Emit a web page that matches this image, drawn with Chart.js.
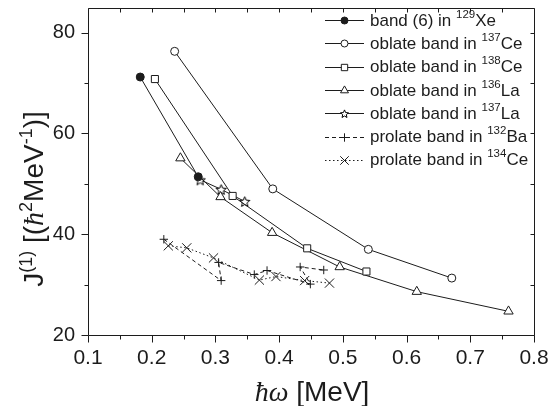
<!DOCTYPE html>
<html>
<head>
<meta charset="utf-8">
<script src="https://cdn.jsdelivr.net/npm/chart.js@4.4.1/dist/chart.umd.min.js"></script>
<style>
  html, body { margin: 0; padding: 0; background: #fff; }
  #wrap { width: 552px; height: 406px; position: relative; }
</style>
</head>
<body>
<div id="wrap"><canvas id="moi"></canvas></div>
<script>
// values: hbar*omega (MeV) vs J(1)
const xeX = [0.182, 0.273];
const xeY = [71.2, 51.4];
const ce137X = [0.236, 0.390, 0.540, 0.671];
const ce137Y = [76.3, 49.0, 37.0, 31.3];
const ce138X = [0.205, 0.327, 0.444, 0.537];
const ce138Y = [70.8, 47.6, 37.2, 32.6];
const la136X = [0.245, 0.308, 0.389, 0.495, 0.616, 0.760];
const la136Y = [55.1, 47.4, 40.3, 33.5, 28.6, 24.7];
const la137X = [0.276, 0.309, 0.346];
const la137Y = [50.8, 48.9, 46.5];
const ba132X = [0.219, 0.309, 0.305, 0.361, 0.381, 0.449, 0.433, 0.470];
const ba132Y = [39.0, 30.8, 34.4, 32.0, 32.8, 30.1, 33.5, 32.9];
const ce134X = [0.226, 0.255, 0.297, 0.369, 0.395, 0.440, 0.479];
const ce134Y = [37.7, 37.3, 35.3, 30.9, 31.6, 30.8, 30.3];

const xTicks = [0.1, 0.2, 0.3, 0.4, 0.5, 0.6, 0.7, 0.8];
const yTicks = [20, 40, 60, 80];

const INK = '#1c1c1c';
const SANS = '"Liberation Sans", Arial, sans-serif';
const SERIF = '"Liberation Serif", "Times New Roman", serif';

function pts(xs, ys) {
  return xs.map((x, i) => ({ x: x, y: ys[i] }));
}

// open five-point star as an image, Chart.js has no outline star
function starImage(r) {
  const s = 2 * Math.ceil(r + 1.5) + 1;
  const c = document.createElement('canvas');
  c.width = s; c.height = s;
  const g = c.getContext('2d');
  g.translate(s / 2, s / 2 + 0.6);
  g.beginPath();
  for (let i = 0; i < 10; i++) {
    const rr = i % 2 ? r * 0.45 : r;
    const a = -Math.PI / 2 + i * Math.PI / 5;
    g.lineTo(Math.cos(a) * rr, Math.sin(a) * rr);
  }
  g.closePath();
  g.fillStyle = '#fff';
  g.fill();
  g.strokeStyle = '#000';
  g.lineWidth = 1;
  g.stroke();
  return c;
}
const starBig = starImage(5.4);
const starSmall = starImage(4.2);

const series = [
  { label: [['band (6) in '], ['129', 1], ['Xe']], xs: xeX, ys: xeY, style: 'circle', r: 4, fill: INK, dash: [], lr: 3.5 },
  { label: [['oblate band in '], ['137', 1], ['Ce']], xs: ce137X, ys: ce137Y, style: 'circle', r: 4, fill: '#fff', dash: [], lr: 3.5 },
  { label: [['oblate band in '], ['138', 1], ['Ce']], xs: ce138X, ys: ce138Y, style: 'rect', r: 5, fill: '#fff', dash: [], lr: 4.5 },
  { label: [['oblate band in '], ['136', 1], ['La']], xs: la136X, ys: la136Y, style: 'triangle', r: 5.4, fill: '#fff', dash: [], lr: 4.6 },
  { label: [['oblate band in '], ['137', 1], ['La']], xs: la137X, ys: la137Y, style: starBig, r: 5, fill: '#fff', dash: [], lr: 4, small: starSmall },
  { label: [['prolate band in '], ['132', 1], ['Ba']], xs: ba132X, ys: ba132Y, style: 'cross', r: 4.2, fill: '#fff', dash: [4, 3], lr: 4.2 },
  { label: [['prolate band in '], ['134', 1], ['Ce']], xs: ce134X, ys: ce134Y, style: 'crossRot', r: 6.5, fill: '#fff', dash: [1.5, 2.5], lr: 6 }
];

const datasets = series.map(s => ({
  label: s.label.map(p => p[0]).join(''),
  data: pts(s.xs, s.ys),
  showLine: true,
  borderColor: INK,
  borderWidth: 1,
  borderDash: s.dash,
  backgroundColor: s.fill,
  pointStyle: s.style,
  pointRadius: s.r,
  pointHoverRadius: s.r,
  pointBorderColor: INK,
  pointBackgroundColor: s.fill,
  pointBorderWidth: 1,
  tension: 0
}));

// text with superscript pieces, drawn left to right from x
function setFont(ctx, p, size, supSize) {
  if (p[1] === 1) ctx.font = supSize + 'px ' + SANS;
  else if (p[1] === 2) ctx.font = 'italic ' + size + 'px ' + SERIF;
  else ctx.font = size + 'px ' + SANS;
}
function richText(ctx, parts, x, y, size, supSize, supRise) {
  for (const p of parts) {
    setFont(ctx, p, size, supSize);
    ctx.fillText(p[0], x, p[1] === 1 ? y - supRise : y);
    x += ctx.measureText(p[0]).width;
  }
  return x;
}
function richWidth(ctx, parts, size, supSize) {
  let w = 0;
  for (const p of parts) {
    setFont(ctx, p, size, supSize);
    w += ctx.measureText(p[0]).width;
  }
  return w;
}

const framePlugin = {
  id: 'frame',
  afterDraw(chart) {
    const { ctx, scales } = chart;
    const sx = scales.x, sy = scales.y;
    const L = Math.round(sx.getPixelForValue(0.1)) + 0.5;
    const R = Math.round(sx.getPixelForValue(0.8)) + 0.5;
    const T = Math.round(sy.getPixelForValue(85)) + 0.5;
    const B = Math.round(sy.getPixelForValue(20)) + 0.5;
    ctx.save();
    ctx.setLineDash([]);
    ctx.strokeStyle = INK;
    ctx.lineWidth = 1;
    ctx.beginPath();
    ctx.moveTo(L, T); ctx.lineTo(R, T); ctx.lineTo(R, B); ctx.lineTo(L, B); ctx.closePath();
    for (let k = 0; k <= 14; k++) {
      const v = 0.1 + k * 0.05;
      const px = Math.round(sx.getPixelForValue(v)) + 0.5;
      const out = k % 2 === 0 ? 7 : 4;
      ctx.moveTo(px, B); ctx.lineTo(px, B + out);
      ctx.moveTo(px, T); ctx.lineTo(px, T + 4);
    }
    for (let v = 20; v <= 80; v += 10) {
      const py = Math.round(sy.getPixelForValue(v)) + 0.5;
      const out = v % 20 === 0 ? 7 : 4;
      ctx.moveTo(L, py); ctx.lineTo(L - out, py);
      ctx.moveTo(R, py); ctx.lineTo(R - 4, py);
    }
    ctx.stroke();

    // legend
    ctx.fillStyle = INK;
    ctx.textBaseline = 'middle';
    ctx.textAlign = 'left';
    series.forEach((s, i) => {
      const y = 20 + i * 23.3;
      ctx.beginPath();
      ctx.setLineDash(s.dash);
      ctx.moveTo(325, Math.round(y) + 0.5); ctx.lineTo(364, Math.round(y) + 0.5);
      ctx.stroke();
      ctx.setLineDash([]);
      ctx.fillStyle = s.fill;
      Chart.helpers.drawPoint(ctx, { pointStyle: s.small || s.style, radius: s.lr, rotation: 0, borderWidth: 1 }, 344.5, Math.round(y) + 0.5);
      ctx.fillStyle = INK;
      richText(ctx, s.label, 370, y + 1, 17, 11.5, 6.5);
    });

    // axis titles
    ctx.textBaseline = 'alphabetic';
    const xt = [['ħω', 2], [' [MeV]']];
    const xw = richWidth(ctx, xt, 28, 17);
    richText(ctx, xt, 312 - xw / 2, 401, 28, 17, 11);

    const yt = [['J'], ['(1)', 1], [' [('], ['ħ', 2], ['2', 1], ['MeV'], ['-1', 1], [')]']];
    const yw = richWidth(ctx, yt, 28, 18);
    ctx.translate(43, 199);
    ctx.rotate(-Math.PI / 2);
    richText(ctx, yt, -yw / 2, 0, 28, 18, 11);
    ctx.restore();
  }
};

new Chart(document.getElementById('moi'), {
  type: 'scatter',
  data: { datasets: datasets },
  options: {
    responsive: true,
    maintainAspectRatio: false,
    animation: false,
    events: [],
    layout: { padding: { top: 4, right: 18, left: 0, bottom: 0 } },
    plugins: { legend: { display: false }, tooltip: { enabled: false } },
    scales: {
      x: {
        type: 'linear',
        min: 0.1, max: 0.8,
        afterFit(s) {
          s.height = 71;
          s.paddingLeft = 0; s.paddingRight = 0;
        },
        afterBuildTicks(s) { s.ticks = xTicks.map(v => ({ value: v })); },
        grid: { display: false, drawTicks: false },
        border: { display: false },
        ticks: {
          color: INK, padding: 11,
          font: { family: SANS, size: 21 },
          callback: v => v.toFixed(1)
        }
      },
      y: {
        min: 20, max: 85,
        afterFit(s) {
          s.width = 88;
          s.paddingTop = 0; s.paddingBottom = 0;
        },
        afterBuildTicks(s) { s.ticks = yTicks.map(v => ({ value: v })); },
        grid: { display: false, drawTicks: false },
        border: { display: false },
        ticks: {
          color: INK, padding: 13,
          font: { family: SANS, size: 20 },
          callback: v => String(v)
        }
      }
    }
  },
  plugins: [framePlugin]
});
</script>
</body>
</html>
